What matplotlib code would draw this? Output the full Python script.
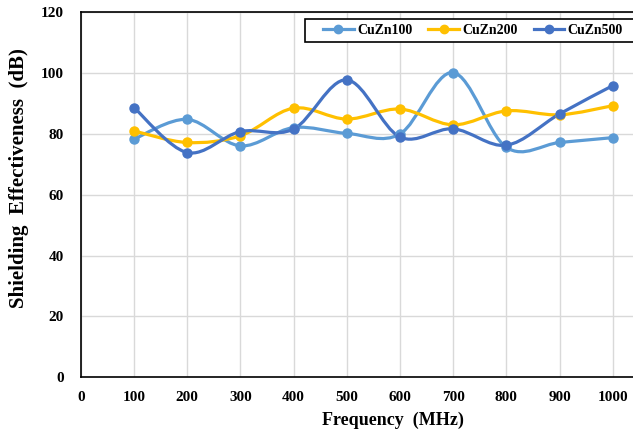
import matplotlib
matplotlib.use("Agg")
import matplotlib.pyplot as plt
from matplotlib.path import Path
from matplotlib.patches import PathPatch, Rectangle
from matplotlib.lines import Line2D
import numpy as np

freq = [100, 200, 300, 400, 500, 600, 700, 800, 900, 1000]
cuzn100 = [78.3, 84.8, 76.1, 82.1, 80.2, 80.0, 100.2, 75.6, 77.2, 78.8]
cuzn200 = [81.0, 77.2, 79.4, 88.5, 84.9, 88.2, 83.0, 87.6, 86.3, 89.3]
cuzn500 = [88.7, 73.9, 80.8, 81.6, 97.8, 79.0, 81.7, 76.3, 86.6, 95.9]
names = ["CuZn100", "CuZn200", "CuZn500"]
colors = ["#5B9BD5", "#FFC000", "#4472C4"]
xticks = [0, 100, 200, 300, 400, 500, 600, 700, 800, 900, 1000]
yticks = [0, 20, 40, 60, 80, 100, 120]

plt.rcParams['font.family'] = ['Liberation Serif', 'DejaVu Serif']
plt.rcParams['font.weight'] = 'bold'

W, H = 633, 432
fig = plt.figure(figsize=(W / 100, H / 100), dpi=100)
ax = fig.add_axes([0.1275, 0.1266, 0.8725, 0.8449])


def smooth_path(x, y):
    pts = np.column_stack([x, y]).astype(float)
    n = len(pts)
    verts = [pts[0]]
    codes = [Path.MOVETO]
    for i in range(n - 1):
        p0 = pts[i - 1] if i > 0 else pts[i]
        p1 = pts[i]
        p2 = pts[i + 1]
        p3 = pts[i + 2] if i + 2 < n else pts[i + 1]
        c1 = p1 + (p2 - p0) / 6.0
        c2 = p2 - (p3 - p1) / 6.0
        verts += [c1, c2, p2]
        codes += [Path.CURVE4] * 3
    return Path(verts, codes)


for ys, c, name in zip([cuzn100, cuzn200, cuzn500], colors, names):
    patch = PathPatch(smooth_path(freq, ys), facecolor='none', edgecolor=c,
                      lw=2.3, transform=ax.transData, zorder=3, capstyle='round')
    ax.add_patch(patch)
    ax.plot(freq, ys, linestyle='none', marker='o', markersize=6.5, color=c,
            zorder=4, label=name)

ax.set_xlim(0, 1038)
ax.set_ylim(0, 120)
ax.set_xticks(xticks)
ax.set_yticks(yticks)
ax.grid(True, color='#D9D9D9', lw=1.0)
ax.set_axisbelow(True)
ax.tick_params(axis='y', length=0, labelsize=11, pad=12)
ax.tick_params(axis='x', length=0, labelsize=11, pad=10)
for lab in ax.get_xticklabels() + ax.get_yticklabels():
    lab.set_fontweight('bold')
ax.spines['right'].set_visible(False)
for s in ['left', 'bottom', 'top']:
    ax.spines[s].set_color('black')
    ax.spines[s].set_linewidth(1.2)

ax.set_xlabel('Frequency  (MHz)', fontsize=13, fontweight='bold')
ax.xaxis.set_label_coords(0.566, -0.094)
ax.set_ylabel('Shielding  Effectiveness  (dB)', fontsize=15, fontweight='bold')
ax.yaxis.set_label_coords(-0.093, 0.546)

# legend frame (extends past the right edge as in the reference)
fig.patches.append(Rectangle((305 / W, 1 - 41.7 / H), 340 / W, 22.7 / H,
                             transform=fig.transFigure, facecolor='white',
                             edgecolor='black', lw=1.2, zorder=5))
handles = [Line2D([0], [0], color=c, lw=2.3, marker='o', markersize=6) for c in colors]
leg = fig.legend(handles, names, ncol=3, loc='center left',
                 bbox_to_anchor=(319 / W, 1 - 30.5 / H),
                 frameon=False, prop={'size': 10, 'weight': 'bold'},
                 handlelength=2.2, columnspacing=1.15, handletextpad=0.25,
                 borderpad=0.3, borderaxespad=0)
leg.set_zorder(6)

fig.savefig('out.png', dpi=100)
